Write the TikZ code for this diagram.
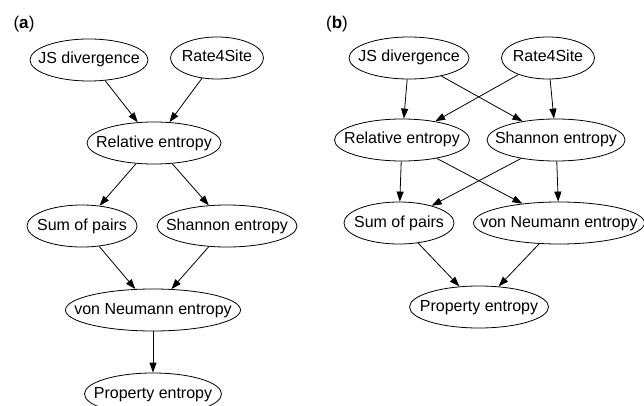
\documentclass[tikz,border=0pt]{standalone}
\usepackage{fontspec}
\setmainfont{Liberation Sans}
\usetikzlibrary{shapes.geometric,arrows.meta}
\begin{document}
\begin{tikzpicture}[x=1pt,y=-1pt,
    state/.style={draw,ellipse,line width=0.8pt,inner xsep=-20pt,inner ysep=0pt,
      minimum height=42pt,text height=11.5pt,text depth=3.5pt,
      font=\fontsize{16}{19}\selectfont},
    panel/.style={font=\fontsize{17}{20}\selectfont},
    edge/.style={line width=0.8pt,-{Triangle[length=10pt,width=7pt]}}]
  \useasboundingbox (0,0) rectangle (644,406);
  % panel a
  \draw
    (24,24) node[panel] (a) {(\textbf{a})}
    (89,60) node[state,minimum width=118pt] (a0) {JS divergence}
    (217,58) node[state,minimum width=93pt] (a1) {Rate4Site}
    (154,143) node[state,minimum width=134pt] (a2) {Relative entropy}
    (82,226) node[state,minimum width=110pt] (a3) {Sum of pairs}
    (227,226) node[state,minimum width=140pt] (a4) {Shannon entropy}
    (153,310) node[state,minimum width=175pt] (a5) {von Neumann entropy}
    (153,394) node[state,minimum width=137pt] (a6) {Property entropy};
  \begin{scope}[edge]
    \draw (a0) to (a2);
    \draw (a1) to (a2);
    \draw (a2) to (a3);
    \draw (a2) to (a4);
    \draw (a3) to (a5);
    \draw (a4) to (a5);
    \draw (a5) to (a6);
  \end{scope}
  % panel b
  \draw
    (337,24) node[panel] (b) {(\textbf{b})}
    (409,58) node[state,minimum width=120pt] (b0) {JS divergence}
    (548,58) node[state,minimum width=93pt] (b1) {Rate4Site}
    (402,140) node[state,minimum width=135pt] (b2) {Relative entropy}
    (556,140) node[state,minimum width=138pt] (b3) {Shannon entropy}
    (399,223) node[state,minimum width=110pt] (b4) {Sum of pairs}
    (559,223) node[state,minimum width=171pt] (b5) {von Neumann entropy}
    (479,307) node[state,minimum width=139pt] (b6) {Property entropy};
  \begin{scope}[edge]
    \draw (b0) to (b2);
    \draw (b0) to (b3);
    \draw (b1) to (b2);
    \draw (b1) to (b3);
    \draw (b2) to (b4);
    \draw (b2) to (b5);
    \draw (b3) to (b4);
    \draw (b3) to (b5);
    \draw (b4) to (b6);
    \draw (b5) to (b6);
  \end{scope}
\end{tikzpicture}
\end{document}
